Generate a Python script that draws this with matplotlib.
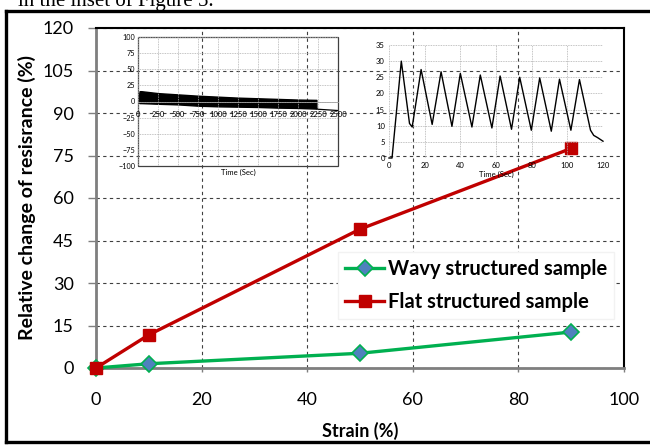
import matplotlib
matplotlib.use("Agg")
import matplotlib.pyplot as plt
from matplotlib.patches import Rectangle
from matplotlib.lines import Line2D

plt.rcParams["font.family"] = ["Lato", "DejaVu Sans"]

# ── Main data: strain sweep ─────────────────────────────────────
strain_wavy = [0, 10, 50, 90]
resist_wavy = [0, 1.5, 5.2, 12.7]
strain_flat = [0, 10, 50, 90]
resist_flat = [0, 11.7, 49, 77.5]

x_ticks = [0, 20, 40, 60, 80, 100]
y_ticks = [0, 15, 30, 45, 60, 75, 90, 105, 120]

# ── Inset 1: long-run stability (envelope of the dense cycling band) ──
band_t = [0, 20, 40, 250, 500, 750, 1000, 1250, 1500, 1750, 2000, 2230]
band_top = [0, 16, 16, 13, 11, 9, 7.5, 6, 5, 4, 3, 2.5]
band_bot = [0, -2.5, -2.5, -3.5, -4.5, -6.5, -7.5, -8, -8.5, -9.5, -10, -11]
tail_t = [2230, 2250, 2500]
tail_r = [-11, -12, -14]
inset1_xticks = list(range(0, 2501, 250))
inset1_yticks = list(range(-100, 101, 25))

# ── Inset 2: first 120 s of cycling ────────────────────────────
cyc_t = [0, 1.7, 6.9, 11.5, 13, 18, 24.2, 29.2, 35.3, 40, 46.5, 51.2, 57.7,
         62.3, 68.7, 73.3, 79.8, 84.5, 91, 95.6, 102, 106.8, 113, 114.8, 117, 120]
cyc_r = [0, 0, 30, 10.7, 9.6, 27.4, 10.4, 26.7, 9.8, 26.2, 9.6, 25.7, 9.3,
         25.4, 8.9, 25, 8.6, 24.8, 8.3, 24.4, 8.6, 24.3, 8.6, 7, 6.3, 5.2]
inset2_xticks = list(range(0, 121, 20))
inset2_yticks = list(range(0, 36, 5))

C_WAVY = "#00B050"
C_WAVY_MK = "#4F81BD"
C_FLAT = "#C00000"
C_AXIS = "#7F7F7F"
C_GRID = "#404040"

fig = plt.figure(figsize=(6.5, 4.45), dpi=100)
fig.patch.set_facecolor("white")

# caption fragment running off the top of the page
fig.text(0.028, 1 - 6 / 445, "in the inset of Figure 5.", fontsize=15,
         family="Liberation Serif", ha="left", va="baseline")

# outer frame (open on the right)
for xs, ys in [([0.009, 1.0], [0.975, 0.975]),
               ([0.009, 0.009], [0.975, 0.0065]),
               ([0.009, 1.0], [0.0065, 0.0065])]:
    fig.add_artist(Line2D(xs, ys, transform=fig.transFigure, color="black", lw=2.4))

# ── MAIN PANEL ─────────────────────────────────────────────────
ax = fig.add_axes([96 / 650, 1 - 368 / 445, 528 / 650, 340 / 445])
ax.set_xlim(0, 100)
ax.set_ylim(0, 120)
ax.set_xticks(x_ticks)
ax.set_yticks(y_ticks)
ax.grid(True, linestyle=(0, (3, 3)), color=C_GRID, lw=0.8)
ax.set_axisbelow(True)
for side in ("left", "bottom"):
    ax.spines[side].set_color(C_AXIS)
    ax.spines[side].set_linewidth(2.0)
for side in ("top", "right"):
    ax.spines[side].set_color("black")
    ax.spines[side].set_linewidth(1.5)
ax.tick_params(axis="y", direction="out", length=6, width=1, color=C_AXIS,
               pad=10, labelsize=13)
ax.tick_params(axis="x", direction="out", length=3, width=1, color=C_AXIS,
               pad=14, labelsize=13)

ax.plot(strain_wavy, resist_wavy, color=C_WAVY, lw=2.4, marker="D", ms=8,
        mfc=C_WAVY_MK, mec=C_WAVY, mew=1.2, clip_on=False, zorder=5,
        label="Wavy structured sample")
ax.plot(strain_flat, resist_flat, color=C_FLAT, lw=2.4, marker="s", ms=9,
        mfc=C_FLAT, mec=C_FLAT, clip_on=False, zorder=6,
        label="Flat structured sample")

ax.set_xlabel("Strain (%)", fontsize=13, fontweight="bold", labelpad=10)
ax.set_ylabel("Relative change of resisrance (%)", fontsize=14,
              fontweight="bold", labelpad=5)

leg = ax.legend(loc="upper left", bbox_to_anchor=(0.44, 0.37),
                prop={"weight": "bold", "size": 14.5}, frameon=True,
                fancybox=False, edgecolor="#f2f2f2", facecolor="white",
                framealpha=1, handlelength=1.9, handletextpad=0.2,
                borderpad=0.35, labelspacing=0.65)

# ── INSET 1: stability over ~2500 s ─────────────────────────────
ai = fig.add_axes([138 / 650, 1 - 166 / 445, 200 / 650, 129 / 445])
ai.set_facecolor("none")
ai.set_xlim(0, 2500)
ai.set_ylim(-100, 100)
ai.set_xticks(inset1_xticks)
ai.set_yticks(inset1_yticks)
ai.grid(True, linestyle=(0, (1, 1)), color="#b0b0b0", lw=0.6)
ai.fill_between(band_t, band_bot, band_top, color="black", lw=1.0,
                edgecolor="black")
ai.plot(tail_t, tail_r, color="black", lw=0.9)
for side in ("left", "right", "top"):
    ai.spines[side].set_visible(False)
ai.spines["bottom"].set_position(("data", 0))
ai.spines["bottom"].set_color("#a0a0a0")
ai.spines["bottom"].set_linewidth(0.6)
ai.add_patch(Rectangle((0, 0), 1, 1, transform=ai.transAxes, fill=False,
                       ec="#404040", lw=0.9, clip_on=False))
ai.tick_params(axis="x", length=0, labelsize=5.5, pad=7)
ai.tick_params(axis="y", length=0, labelsize=5.2, pad=2)
ai.text(0.5, -0.025, "Time (Sec)", transform=ai.transAxes, ha="center",
        va="top", fontsize=5.5)

# ── INSET 2: first cycles ──────────────────────────────────────
aj = fig.add_axes([389 / 650, 1 - 158 / 445, 214 / 650, 113 / 445])
aj.set_facecolor("none")
aj.set_xlim(0, 120)
aj.set_ylim(0, 35)
aj.set_xticks(inset2_xticks)
aj.set_yticks(inset2_yticks)
aj.grid(True, linestyle=(0, (1, 1)), color="#b0b0b0", lw=0.6)
for side in aj.spines:
    aj.spines[side].set_visible(False)
aj.plot(cyc_t, cyc_r, color="black", lw=1.0, clip_on=False)
aj.tick_params(axis="both", length=0, labelsize=5.5, pad=3)
aj.set_xlabel("Time (Sec)", fontsize=5.5, labelpad=1)

fig.savefig("out.png", dpi=100, facecolor="white")
